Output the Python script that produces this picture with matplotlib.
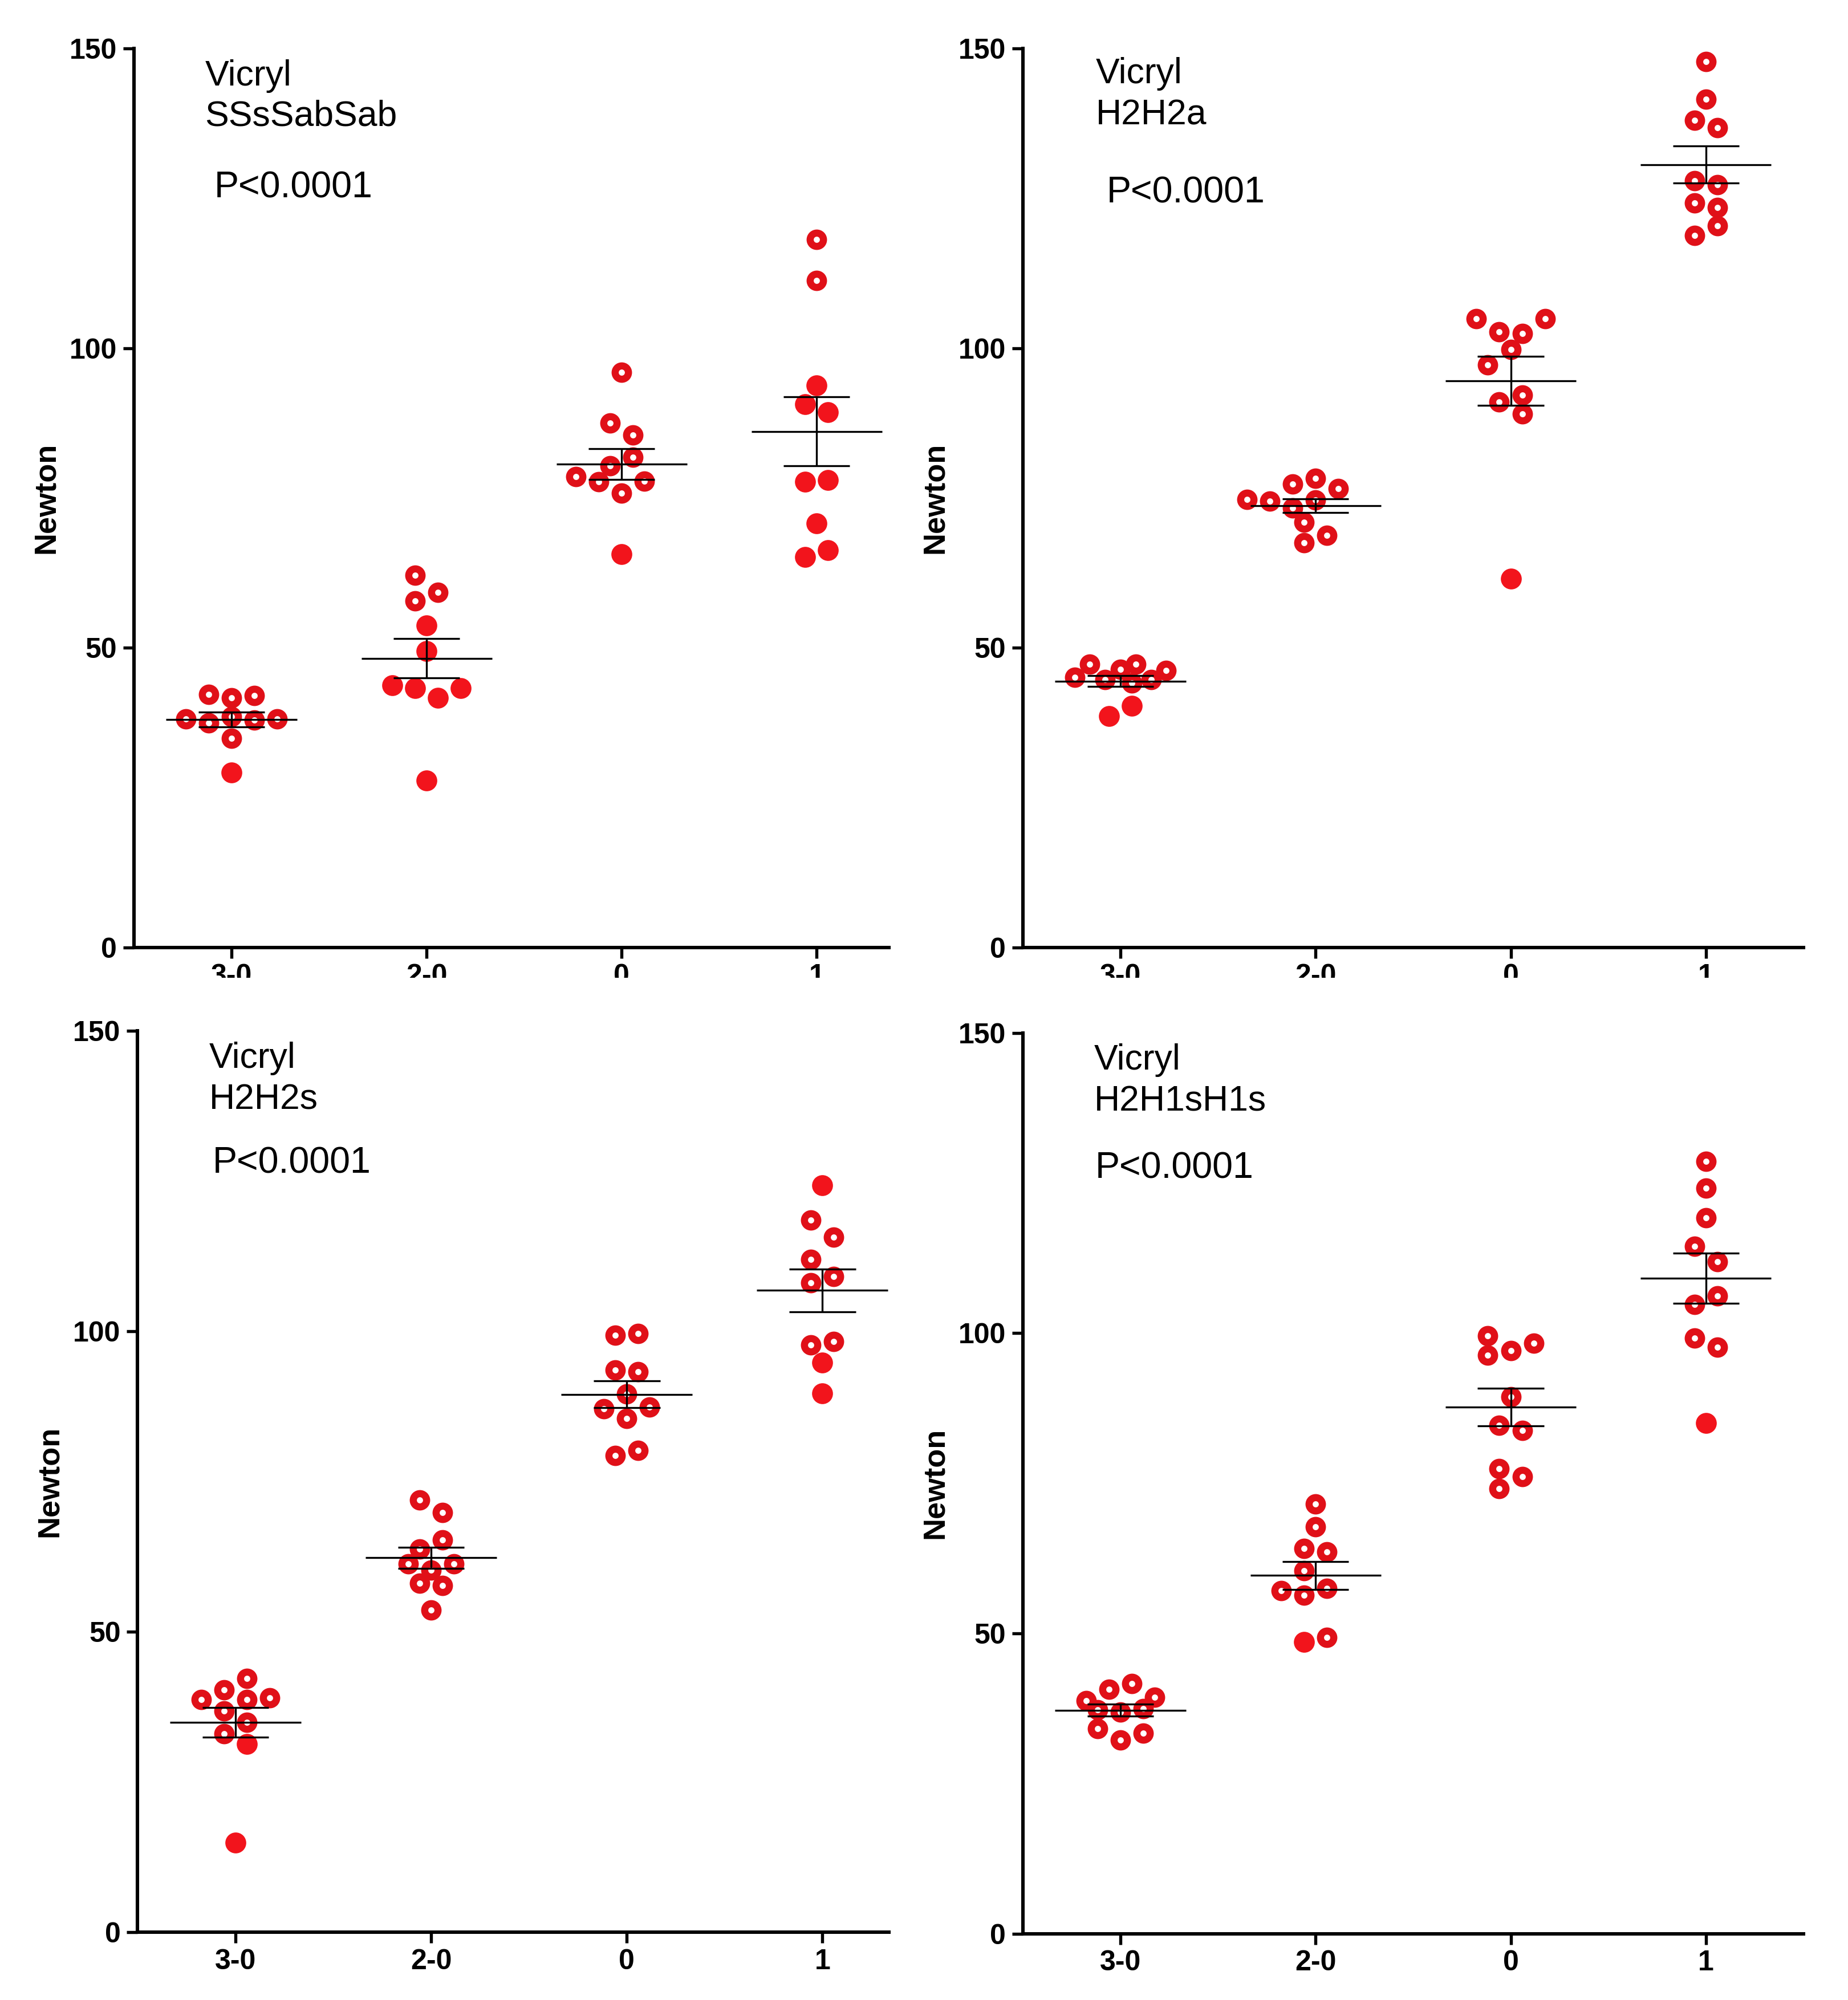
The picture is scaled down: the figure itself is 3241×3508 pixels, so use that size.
import numpy as np
import matplotlib
matplotlib.use('Agg')
import matplotlib.pyplot as plt
from matplotlib.patches import Rectangle

plt.rcParams['font.family'] = ['Liberation Sans', 'DejaVu Sans']

groups = ['3-0', '2-0', '0', '1']

# Newton values per group, listed left to right as the dots sit in each column
# (top to bottom inside one column); 1 in the *_filled lists = solid dot
ssab = [
    [38.1, 42.2, 37.5, 38.5, 41.7, 34.9, 29.2, 42.0, 38.0, 38.1],
    [43.8, 43.3, 62.1, 57.8, 53.7, 49.5, 41.7, 27.9, 59.3, 43.3],
    [78.6, 87.5, 77.7, 96.0, 85.5, 80.4, 75.8, 65.6, 81.8, 77.8],
    [90.6, 118.1, 111.3, 93.8, 89.3, 77.7, 70.8, 65.2, 78.0, 66.3],
]
ssab_filled = [
    [0, 0, 0, 0, 0, 0, 1, 0, 0, 0],
    [1, 1, 0, 0, 1, 1, 1, 1, 0, 1],
    [0, 0, 0, 0, 0, 0, 0, 1, 0, 0],
    [1, 0, 0, 1, 1, 1, 1, 1, 1, 1],
]

h2a = [
    [45.1, 47.3, 44.7, 46.4, 44.1, 38.6, 47.3, 44.7, 40.3, 46.2],
    [74.8, 74.5, 71.0, 77.3, 73.3, 67.5, 78.3, 74.7, 68.8, 76.6],
    [104.9, 102.7, 91.0, 102.4, 97.2, 89.0, 61.5, 104.9, 99.8, 92.2],
    [138.0, 124.2, 147.8, 141.5, 136.8, 127.9, 123.5, 118.8, 127.3, 120.4],
]
h2a_filled = [
    [0, 0, 0, 0, 0, 1, 0, 0, 1, 0],
    [0] * 10,
    [0, 0, 0, 0, 0, 0, 1, 0, 0, 0],
    [0] * 10,
]

h2s = [
    [40.3, 38.7, 33.0, 42.2, 36.8, 31.3, 14.9, 38.7, 34.9, 39.0],
    [61.3, 71.9, 58.1, 69.8, 63.8, 57.7, 53.6, 65.3, 60.3, 61.3],
    [87.1, 99.3, 93.5, 89.6, 85.5, 79.3, 99.6, 93.3, 87.4, 80.2],
    [118.5, 111.9, 97.7, 124.3, 115.6, 108.1, 94.8, 89.7, 109.1, 98.3],
]
h2s_filled = [
    [0, 0, 0, 0, 0, 1, 1, 0, 0, 0],
    [0] * 10,
    [0] * 10,
    [0, 0, 0, 1, 0, 0, 1, 1, 0, 0],
]

h1s = [
    [38.8, 37.3, 34.1, 40.7, 41.6, 36.9, 32.2, 37.5, 33.4, 39.4],
    [64.1, 57.1, 71.6, 67.8, 60.4, 56.4, 48.6, 63.6, 57.5, 49.3],
    [99.6, 97.1, 84.7, 77.4, 96.3, 89.4, 83.8, 74.1, 98.3, 76.1],
    [114.5, 99.2, 128.6, 124.2, 119.2, 111.9, 104.8, 97.7, 85.0, 106.2],
]
h1s_filled = [
    [0] * 10,
    [0, 0, 0, 0, 0, 0, 1, 0, 0, 0],
    [0] * 10,
    [0, 0, 0, 0, 0, 0, 0, 0, 1, 0],
]

RING = '#E01018'
FILL = '#F2141C'


def swarm(vals, d=3.0, dy=3.3, dx=0.105, step=0.117, maxw=0.47, thr=0.85):
    # rows of dots that sit within one dot height, spread sideways,
    # shifted as a whole if they would land on a dot of an upper row
    vals = np.asarray(vals, float)
    order = sorted(range(len(vals)), key=lambda i: -vals[i])
    xs = np.zeros(len(vals))
    placed = []
    k = 0
    while k < len(order):
        row = [order[k]]
        k += 1
        while k < len(order) and vals[row[0]] - vals[order[k]] < d:
            row.append(order[k])
            k += 1
        row.sort()
        n = len(row)
        s = min(step, maxw / (n - 1)) if n > 1 else 0.0
        base = (np.arange(n) - (n - 1) / 2) * s
        best = base
        for shift in [0, -0.5, 0.5, -1, 1, -1.5, 1.5, -2, 2]:
            cand = base + shift * step
            ok = all(np.hypot((cx - xs[j]) / dx, (vals[i] - vals[j]) / dy) >= thr
                     for i, cx in zip(row, cand) for j in placed)
            if ok:
                best = cand
                break
        xs[row] = best
        placed += row
    return xs


def panel(ax, data, filled, xright, name, txt_pos):
    for gi, (vals, fl) in enumerate(zip(data, filled)):
        v = np.array(vals)
        f = np.array(fl, bool)
        x = gi + swarm(v)
        ax.plot(x[~f], v[~f], 'o', ms=5.6, mfc='white', mec=RING, mew=3.0,
                ls='none', zorder=3)
        ax.plot(x[f], v[f], 'o', ms=8.8, mfc=FILL, mec='none', ls='none', zorder=3)
        m = v.mean()
        se = v.std(ddof=1) / np.sqrt(len(v))
        ax.hlines(m, gi - 0.335, gi + 0.335, color='black', lw=0.8, zorder=5)
        ax.hlines([m - se, m + se], gi - 0.17, gi + 0.17, color='black', lw=0.8, zorder=5)
        ax.vlines(gi, m - se, m + se, color='black', lw=0.8, zorder=5)

    ax.set_xlim(-0.5, xright)
    ax.set_ylim(0, 150)
    ax.set_yticks([0, 50, 100, 150])
    ax.set_xticks(range(len(groups)))
    ax.set_xticklabels(groups)
    for side in ['top', 'right']:
        ax.spines[side].set_visible(False)
    for side in ['left', 'bottom']:
        ax.spines[side].set_linewidth(1.45)
    ax.tick_params(axis='both', length=4.6, width=1.3, labelsize=12, direction='out')
    ax.tick_params(axis='x', pad=2.2)
    ax.tick_params(axis='y', pad=2.6)
    for lab in ax.get_xticklabels() + ax.get_yticklabels():
        lab.set_fontweight('bold')

    tx, ty1, ty2, px, py = txt_pos
    ax.text(tx, ty1, 'Vicryl', transform=ax.transAxes, fontsize=15, va='baseline')
    ax.text(tx, ty2, name, transform=ax.transAxes, fontsize=15, va='baseline')
    ax.text(px, py, 'P<0.0001', transform=ax.transAxes, fontsize=15.5, va='baseline')


fig = plt.figure(figsize=(3241 / 300, 3508 / 300), dpi=300)

ax1 = fig.add_axes([0.0725, 0.5262, 0.4085, 0.4496])
ax2 = fig.add_axes([0.5535, 0.5262, 0.4224, 0.4496])
ax3 = fig.add_axes([0.0745, 0.0338, 0.4065, 0.4509])
ax4 = fig.add_axes([0.5535, 0.0332, 0.4224, 0.4503])

panel(ax1, ssab, ssab_filled, 3.37, 'SSsSabSab', (0.094, 0.959, 0.914, 0.1066, 0.834))
panel(ax2, h2a, h2a_filled, 3.5, 'H2H2a', (0.0934, 0.961, 0.915, 0.107, 0.8285))
panel(ax3, h2s, h2s_filled, 3.34, 'H2H2s', (0.0949, 0.9589, 0.9128, 0.0996, 0.8418))
panel(ax4, h1s, h1s_filled, 3.5, 'H2H1sH1s', (0.0911, 0.9596, 0.9135, 0.0926, 0.8391))

for ax, lx in [(ax1, -0.1166), (ax2, -0.1127), (ax3, -0.117), (ax4, -0.1127)]:
    ax.text(lx, 0.5, 'Newton', transform=ax.transAxes, rotation=90,
            ha='center', va='center', fontsize=13, fontweight='bold')

# the upper panels were cut just under their category labels
fig.patches.append(Rectangle((0, 0.4926), 1, 0.0185, transform=fig.transFigure,
                             facecolor='white', edgecolor='none', zorder=10))

fig.savefig('out.png', dpi=300)
